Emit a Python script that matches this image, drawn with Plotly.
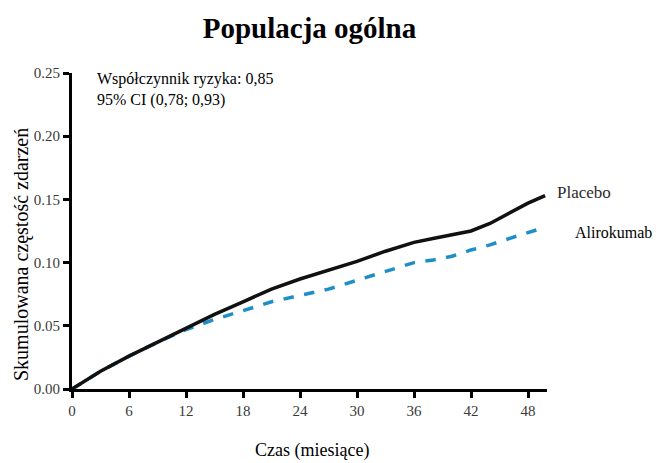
import plotly.graph_objects as go

months = [0, 3, 6, 9, 12, 15, 18, 21, 24, 27, 30, 33, 36, 38, 40, 42, 44, 46, 48, 49.8]
placebo = [0, 0.014, 0.026, 0.037, 0.048, 0.059, 0.069, 0.079, 0.087, 0.094, 0.101,
           0.109, 0.116, 0.119, 0.122, 0.125, 0.131, 0.139, 0.147, 0.153]
alirokumab = [0, 0.014, 0.026, 0.037, 0.047, 0.055, 0.062, 0.069, 0.074, 0.079, 0.086,
              0.093, 0.100, 0.102, 0.105, 0.110, 0.114, 0.119, 0.124, 0.128]
x_ticks = [0, 6, 12, 18, 24, 30, 36, 42, 48]
y_ticks = [0.0, 0.05, 0.10, 0.15, 0.20, 0.25]
y_tick_labels = ["0.00", "0.05", "0.10", "0.15", "0.20", "0.25"]

serif = "Liberation Serif, Times New Roman, serif"

fig = go.Figure()
fig.add_trace(go.Scatter(x=months, y=alirokumab, mode="lines", name="Alirokumab",
                         line=dict(color="#1e8ec8", width=3.5, dash="dash")))
fig.add_trace(go.Scatter(x=months, y=placebo, mode="lines", name="Placebo",
                         line=dict(color="#111111", width=3.5)))

# page body has an 8px default margin, so the figure is sized/offset to compensate
fig.update_layout(
    width=656, height=455,
    margin=dict(l=64, r=117, t=65, b=74, autoexpand=False),
    paper_bgcolor="white", plot_bgcolor="white",
    showlegend=False,
    font=dict(family=serif, color="#000000"),
    title=dict(text="<b>Populacja ogólna</b>", x=0.5, xref="paper", xanchor="center",
               y=1 - 20 / 455, yref="container", yanchor="middle",
               font=dict(size=29, family=serif, color="#000"), automargin=False),
    xaxis=dict(range=[0, 50], tickvals=x_ticks, showline=True, linecolor="black",
               linewidth=3, ticks="outside", ticklen=6, tickwidth=3, tickcolor="black",
               showgrid=False, zeroline=False, automargin=False,
               tickfont=dict(size=15, family=serif, color="#3a3a3a")),
    yaxis=dict(range=[0, 0.25], tickvals=y_ticks, ticktext=y_tick_labels, showline=True,
               linecolor="black", linewidth=3, ticks="outside", ticklen=6, tickwidth=3,
               tickcolor="black", showgrid=False, zeroline=False, automargin=False,
               tickfont=dict(size=15, family=serif, color="#3a3a3a")),
)

# axis titles
fig.add_annotation(x=-51 / 475, y=0.424, xref="paper", yref="paper", textangle=-90,
                   xanchor="center", yanchor="middle", text="Skumulowana częstość zdarzeń",
                   showarrow=False, font=dict(size=20, family=serif, color="#000"))
fig.add_annotation(x=0.505, y=-0.195, xref="paper", yref="paper",
                   xanchor="center", yanchor="middle", text="Czas (miesiące)",
                   showarrow=False, font=dict(size=18, family=serif, color="#000"))

fig.add_annotation(x=0.048, y=1.015, xref="paper", yref="paper", xanchor="left", yanchor="top",
                   text="Współczynnik ryzyka: 0,85<br>95% CI (0,78; 0,93)", align="left",
                   showarrow=False, font=dict(size=16, family=serif, color="#000"))
fig.add_annotation(x=1.017, y=0.622, xref="paper", yref="paper", xanchor="left",
                   yanchor="middle", text="Placebo", showarrow=False,
                   font=dict(size=17, family=serif, color="#2a2a2a"))
fig.add_annotation(x=1.055, y=0.494, xref="paper", yref="paper", xanchor="left",
                   yanchor="middle", text="Alirokumab", showarrow=False,
                   font=dict(size=16, family=serif, color="#000"))

fig.write_html("out.html")
